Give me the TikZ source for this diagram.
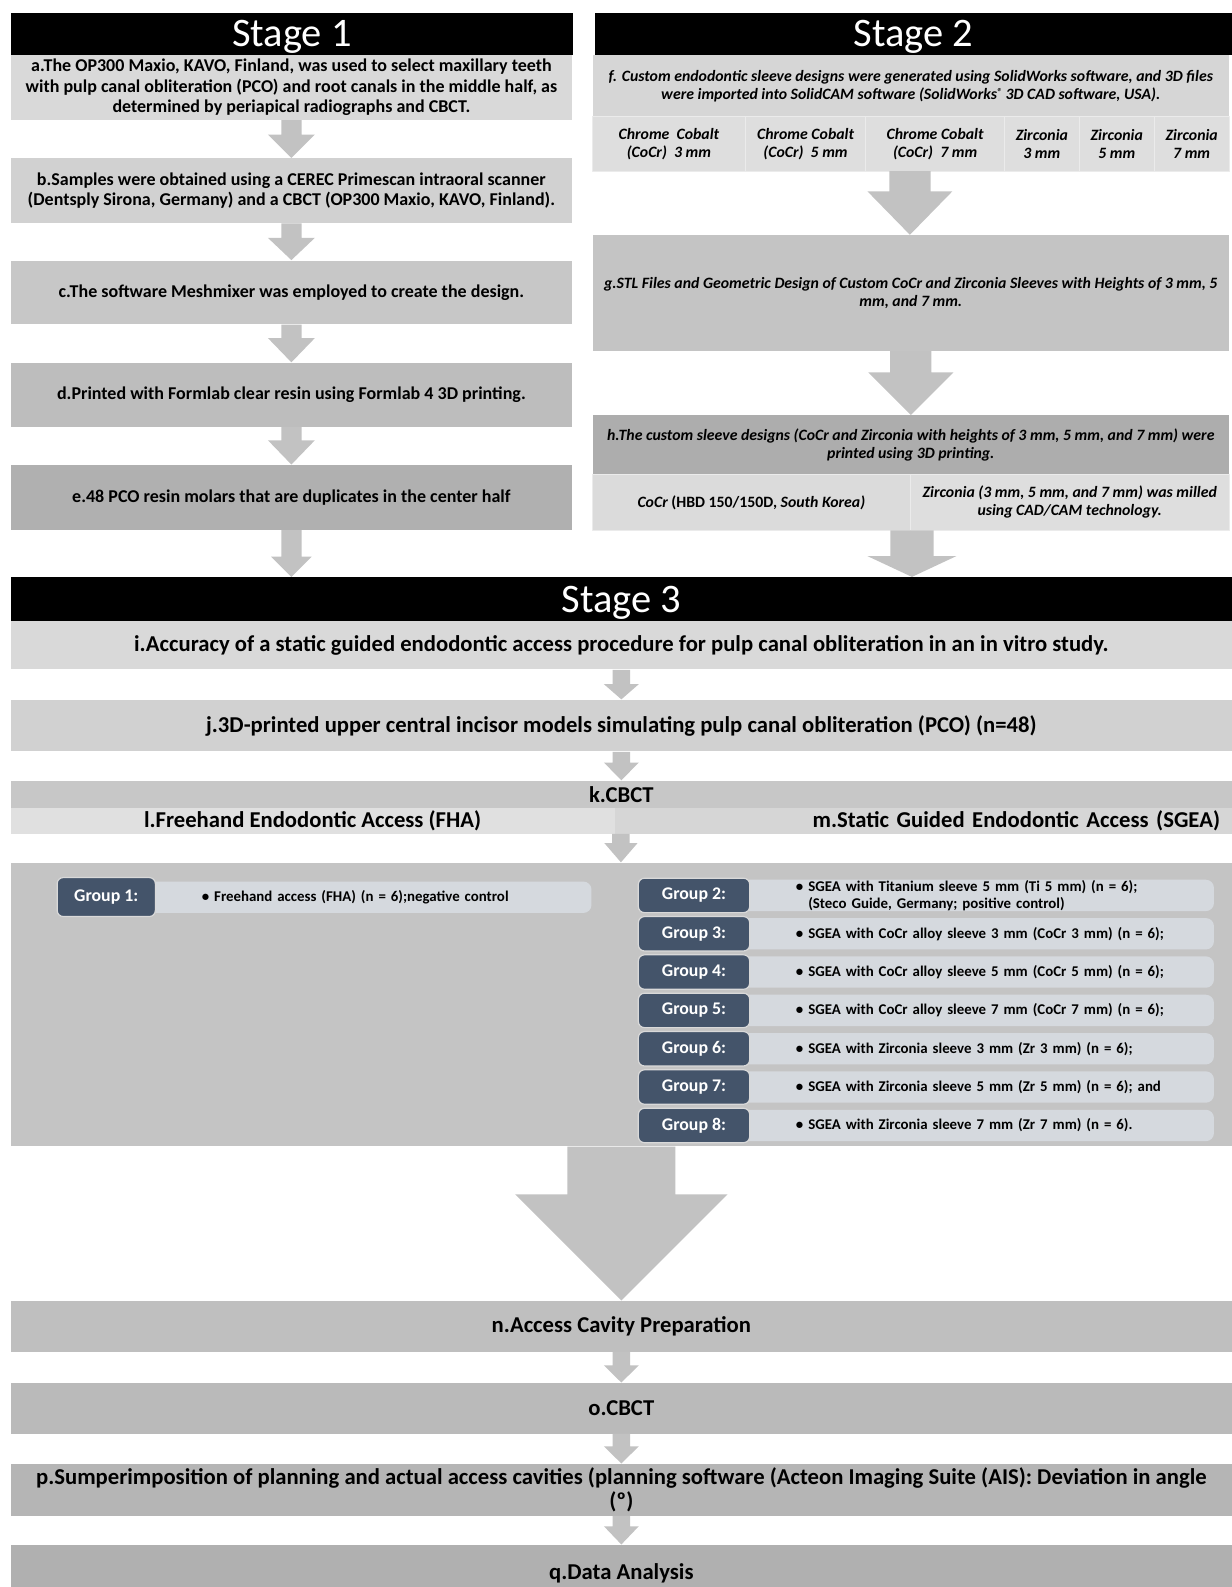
\documentclass[tikz,border=0pt]{standalone}
\usepackage{fontspec}
\setmainfont{Carlito}
\usetikzlibrary{calc}

\definecolor{arrowgray}{HTML}{C2C2C2}
\definecolor{slate}{HTML}{44546A}
\definecolor{barblue}{HTML}{D5D9DE}

% block arrow from point #1 down to point #2: half shaft, half head, head length
\newcommand{\blockarrow}[5]{%
  \fill[arrowgray] let \p1=#1, \p2=#2 in
    (\x1-#3,\y1) -- (\x1+#3,\y1) -- (\x1+#3,\y2+#5) -- (\x1+#4,\y2+#5)
    -- (\x1,\y2) -- (\x1-#4,\y2+#5) -- (\x1-#3,\y2+#5) -- cycle;}

\begin{document}
\begin{tikzpicture}[x=0.5pt,y=-0.5pt,line join=round,
  stepbox/.style={anchor=north west,inner sep=0pt,align=center},
  stagebar/.style={stepbox,fill=black,text=white,text height=13pt,text depth=0pt,font=\fontsize{20}{22}\selectfont},
  s1text/.style={font=\bfseries\fontsize{8.9}{10}\selectfont},
  s2text/.style={font=\bfseries\itshape\fontsize{7.8}{8.9}\selectfont},
  s3text/.style={font=\bfseries\fontsize{11.2}{11.5}\selectfont},
  cell/.style={stepbox,s2text,draw=white!92!black,line width=0.4pt},
  glabel/.style={fill=slate,draw=white!85!black,line width=0.6pt,rounded corners=3pt,text=white,inner sep=0pt,font=\bfseries\fontsize{8.8}{10}\selectfont},
  gbar/.style={fill=barblue,rounded corners=4pt,anchor=west,inner sep=0pt,minimum height=15.5pt,align=left,font=\bfseries\fontsize{7.35}{8.6}\selectfont}]

  \useasboundingbox (0,0) rectangle (1217,1568);

  % Stage 1
  \node[stagebar,minimum width=278pt,minimum height=21pt] (st1) at (10,12) {Stage 1};
  \node[stepbox,s1text,fill=black!15,minimum width=277.5pt,minimum height=32pt] (a) at (10,54)
    {a.The OP300 Maxio, KAVO, Finland, was used to select maxillary teeth\\
     with pulp canal obliteration (PCO) and root canals in the middle half, as\\
     determined by periapical radiographs and CBCT.};
  \node[stepbox,s1text,fill=black!18,minimum width=277.5pt,minimum height=32pt] (b) at (10,156)
    {b.Samples were obtained using a CEREC Primescan intraoral scanner\\
     (Dentsply Sirona, Germany) and a CBCT (OP300 Maxio, KAVO, Finland).};
  \node[stepbox,s1text,fill=black!22,minimum width=277.5pt,minimum height=31.5pt] (c) at (10,257)
    {c.The software Meshmixer was employed to create the design.};
  \node[stepbox,s1text,fill=black!26,minimum width=277.5pt,minimum height=31.5pt] (d) at (10,358)
    {d.Printed with Formlab clear resin using Formlab 4 3D printing.};
  \node[stepbox,s1text,fill=black!31,minimum width=277.5pt,minimum height=32pt] (e) at (10,459)
    {e.48 PCO resin molars that are duplicates in the center half};

  % Stage 2
  \node[stagebar,minimum width=315pt,minimum height=21pt] (st2) at (587,12) {Stage 2};
  \node[stepbox,s2text,fill=black!16,minimum width=314.5pt,minimum height=30.5pt] (f) at (585,54)
    {f. Custom endodontic sleeve designs were generated using SolidWorks software, and 3D files\\
     were imported into SolidCAM software (SolidWorks\raisebox{0.5ex}{\tiny®} 3D CAD software, USA).};
  \node[cell,fill=black!13,minimum width=75.5pt,minimum height=27pt] (cf1) at (585,115) {Chrome\ \ Cobalt\\(CoCr)\ \ 3 mm};
  \node[cell,fill=black!13,minimum width=59.5pt,minimum height=27pt] (cf2) at (736,115) {Chrome Cobalt\\(CoCr)\ \ 5 mm};
  \node[cell,fill=black!13,minimum width=68.5pt,minimum height=27pt] (cf3) at (855,115) {Chrome Cobalt\\(CoCr)\ \ 7 mm};
  \node[cell,fill=black!13,minimum width=37pt,minimum height=27pt] (cf4) at (992,115) {Zirconia\\3 mm};
  \node[cell,fill=black!13,minimum width=37pt,minimum height=27pt] (cf5) at (1066,115) {Zirconia\\5 mm};
  \node[cell,fill=black!13,minimum width=37pt,minimum height=27pt] (cf6) at (1140,115) {Zirconia\\7 mm};
  \coordinate (fbot) at (899,169);
  \node[stepbox,s2text,fill=black!23,minimum width=314.5pt,minimum height=57pt] (g) at (585,232)
    {g.STL Files and Geometric Design of Custom CoCr and Zirconia Sleeves with Heights of 3 mm, 5\\
     mm, and 7 mm.};
  \node[stepbox,s2text,fill=black!32,minimum width=314.5pt,minimum height=29pt] (h) at (585,410)
    {h.The custom sleeve designs (CoCr and Zirconia with heights of 3 mm, 5 mm, and 7 mm) were\\
     printed using 3D printing.};
  \node[cell,fill=black!14,minimum width=157pt,minimum height=28pt] (ch1) at (585,468)
    {CoCr {\upshape(HBD 150/150D,} South Korea)};
  \node[cell,fill=black!13,minimum width=157.5pt,minimum height=28pt] (ch2) at (899,468)
    {Zirconia (3 mm, 5 mm, and 7 mm) was milled\\using CAD/CAM technology.};
  \coordinate (hbot) at (901,524);

  % Stage 3
  \node[stagebar,minimum width=603.5pt,minimum height=21.5pt] (st3) at (10,570) {Stage 3};
  \node[stepbox,s3text,fill=black!15,minimum width=603.5pt,minimum height=24pt] (i) at (10,613)
    {i.Accuracy of a static guided endodontic access procedure for pulp canal obliteration in an in vitro study.};
  \node[stepbox,s3text,fill=black!18,minimum width=603.5pt,minimum height=25.5pt] (j) at (10,691)
    {j.3D-printed upper central incisor models simulating pulp canal obliteration (PCO) (n=48)};
  \node[stepbox,s3text,fill=black!22,minimum width=603.5pt,minimum height=13.5pt] (k) at (10,771) {k.CBCT};
  \node[stepbox,s3text,fill=black!12,minimum width=298.5pt,minimum height=13pt] (l) at (10,798)
    {l.Freehand Endodontic Access (FHA)};
  \node[stepbox,s3text,fill=black!16,minimum width=305pt,minimum height=13pt,text width=293pt,align=right] (m) at (607,798)
    {m.Static Guided Endodontic Access (SGEA)};
  \coordinate (lmbot) at (613.5,824);

  % groups
  \node[stepbox,fill=black!23,minimum width=603.5pt,minimum height=140pt] (panel) at (10,852) {};
  \node[gbar,text width=219.5pt] (t1) at (145,886.5)
    {\hspace*{27pt}\textbullet\ Freehand access (FHA) (n = 6);negative control};
  \node[glabel,minimum width=48.5pt,minimum height=19.25pt] (g1) at (105,886.3) {Group 1:};
  \node[gbar,text width=233.5pt] (t2) at (732,884.7)
    {\hspace*{27pt}\textbullet\ SGEA with Titanium sleeve 5 mm (Ti 5 mm) (n = 6);\\
     \hspace*{27pt}\phantom{\textbullet\ }(Steco Guide, Germany; positive control)};
  \node[glabel,minimum width=55pt,minimum height=17pt] (g2) at (685.7,884.7) {Group 2:};
  \node[gbar,text width=233.5pt] (t3) at (732,922.6)
    {\hspace*{27pt}\textbullet\ SGEA with CoCr alloy sleeve 3 mm (CoCr 3 mm) (n = 6);};
  \node[glabel,minimum width=55pt,minimum height=17pt] (g3) at (685.7,922.6) {Group 3:};
  \node[gbar,text width=233.5pt] (t4) at (732,960.4)
    {\hspace*{27pt}\textbullet\ SGEA with CoCr alloy sleeve 5 mm (CoCr 5 mm) (n = 6);};
  \node[glabel,minimum width=55pt,minimum height=17pt] (g4) at (685.7,960.4) {Group 4:};
  \node[gbar,text width=233.5pt] (t5) at (732,998.3)
    {\hspace*{27pt}\textbullet\ SGEA with CoCr alloy sleeve 7 mm (CoCr 7 mm) (n = 6);};
  \node[glabel,minimum width=55pt,minimum height=17pt] (g5) at (685.7,998.3) {Group 5:};
  \node[gbar,text width=233.5pt] (t6) at (732,1036.2)
    {\hspace*{27pt}\textbullet\ SGEA with Zirconia sleeve 3 mm (Zr 3 mm) (n = 6);};
  \node[glabel,minimum width=55pt,minimum height=17pt] (g6) at (685.7,1036.2) {Group 6:};
  \node[gbar,text width=233.5pt] (t7) at (732,1074)
    {\hspace*{27pt}\textbullet\ SGEA with Zirconia sleeve 5 mm (Zr 5 mm) (n = 6); and};
  \node[glabel,minimum width=55pt,minimum height=17pt] (g7) at (685.7,1074) {Group 7:};
  \node[gbar,text width=233.5pt] (t8) at (732,1112)
    {\hspace*{27pt}\textbullet\ SGEA with Zirconia sleeve 7 mm (Zr 7 mm) (n = 6).};
  \node[glabel,minimum width=55pt,minimum height=17pt] (g8) at (685.7,1112) {Group 8:};

  % final steps
  \node[stepbox,s3text,fill=black!25,minimum width=603.5pt,minimum height=25pt] (n) at (10,1285) {n.Access Cavity Preparation};
  \node[stepbox,s3text,fill=black!27,minimum width=603.5pt,minimum height=25pt] (o) at (10,1366) {o.CBCT};
  \node[stepbox,s3text,fill=black!29,minimum width=603.5pt,minimum height=25.5pt] (p) at (10,1446)
    {p.Sumperimposition of planning and actual access cavities (planning software (Acteon Imaging Suite (AIS): Deviation in angle\\(º)};
  \node[stepbox,s3text,fill=black!31,minimum width=603.5pt,minimum height=28pt] (q) at (10,1526) {q.Data Analysis};

  % arrows
  \blockarrow{(a.south)}{(b.north)}{5pt}{11.6pt}{11.5pt}
  \blockarrow{(b.south)}{(c.north)}{5pt}{11.6pt}{11pt}
  \blockarrow{(c.south)}{(d.north)}{5pt}{11.6pt}{12pt}
  \blockarrow{(d.south)}{(e.north)}{5pt}{11.6pt}{12pt}
  \blockarrow{(e.south)}{(st3.north)}{5pt}{10pt}{10pt}
  \blockarrow{(fbot)}{(g.north)}{10.2pt}{21pt}{21.5pt}
  \blockarrow{(g.south)}{(h.north)}{10.2pt}{21pt}{21pt}
  \blockarrow{(hbot)}{(st3.north)}{10.7pt}{22pt}{10.3pt}
  \blockarrow{(i.south)}{(j.north)}{4.3pt}{8.6pt}{7.5pt}
  \blockarrow{(j.south)}{(k.north)}{4.3pt}{8.6pt}{8.8pt}
  \blockarrow{(lmbot)}{(panel.north)}{4.3pt}{8.2pt}{9.5pt}
  \blockarrow{(panel.south)}{(n.north)}{26.7pt}{52.5pt}{52.5pt}
  \blockarrow{(n.south)}{(o.north)}{4.3pt}{8.6pt}{8.5pt}
  \blockarrow{(o.south)}{(p.north)}{4.3pt}{8.6pt}{8.5pt}
  \blockarrow{(p.south)}{(q.north)}{4.3pt}{8.6pt}{9pt}
\end{tikzpicture}
\end{document}
